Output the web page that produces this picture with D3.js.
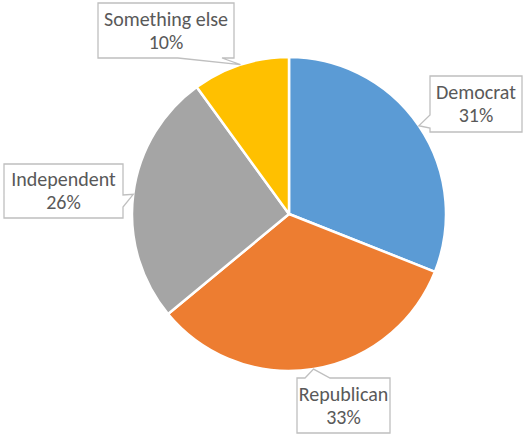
<!DOCTYPE html>
<html>
<head>
<meta charset="utf-8">
<script src="https://cdn.jsdelivr.net/npm/d3@7"></script>
<style>
  html, body { margin: 0; padding: 0; background: #ffffff; }
  svg { display: block; }
  .lbl { font-family: Calibri, Carlito, Lato, "Liberation Sans", sans-serif; font-size: 20px; fill: #595959; }
</style>
</head>
<body>
<div id="chart"></div>
<script>
// Party identification shares
const categories = ["Democrat", "Republican", "Independent", "Something else"];
const values = [31, 33, 26, 10];
const colors = ["#5B9BD5", "#ED7D31", "#A5A5A5", "#FFC000"];

// Callout boxes: rectangle, the side the pointer leaves from, and where its base sits on that side
const callouts = [
  { x: 430, y: 76,  w: 92,  h: 56, side: "left",   b0: 39, b1: 52 },
  { x: 297, y: 378, w: 93,  h: 55, side: "top",    b0: 8,  b1: 33 },
  { x: 4,   y: 164, w: 119, h: 54, side: "right",  b0: 31, b1: 43 },
  { x: 98,  y: 3,   w: 136, h: 55, side: "bottom", b0: 80, b1: 124 }
];

const W = 524, H = 435;
const cx = 289, cy = 214, R = 157;

const svg = d3.select("#chart").append("svg")
  .attr("width", W).attr("height", H);

const pie = d3.pie().sort(null).value(d => d.value);
const arcs = pie(categories.map((c, i) => ({ name: c, value: values[i], color: colors[i] })));
const arc = d3.arc().innerRadius(0).outerRadius(R);

const g = svg.append("g").attr("transform", `translate(${cx},${cy})`);
g.selectAll("path.slice").data(arcs).enter().append("path")
  .attr("class", "slice")
  .attr("d", arc)
  .attr("fill", d => d.data.color)
  .attr("stroke", "#ffffff")
  .attr("stroke-width", 2.5)
  .attr("stroke-linejoin", "round");

// Callout shape: rectangle with a wedge reaching toward the slice
function calloutPath(c, tip) {
  const x0 = c.x, y0 = c.y, x1 = c.x + c.w, y1 = c.y + c.h;
  const p = [];
  p.push([x0, y0]);
  if (c.side === "top") { p.push([x0 + c.b0, y0], tip, [x0 + c.b1, y0]); }
  p.push([x1, y0]);
  if (c.side === "right") { p.push([x1, y0 + c.b0], tip, [x1, y0 + c.b1]); }
  p.push([x1, y1]);
  if (c.side === "bottom") { p.push([x0 + c.b1, y1], tip, [x0 + c.b0, y1]); }
  p.push([x0, y1]);
  if (c.side === "left") { p.push([x0, y0 + c.b1], tip, [x0, y0 + c.b0]); }
  return "M" + p.map(q => q.join(",")).join("L") + "Z";
}

const labels = svg.append("g");
arcs.forEach((a, i) => {
  const c = callouts[i];
  const mid = (a.startAngle + a.endAngle) / 2;
  const tip = [cx + R * Math.sin(mid), cy - R * Math.cos(mid)];
  labels.append("path")
    .attr("d", calloutPath(c, tip))
    .attr("fill", "#ffffff")
    .attr("stroke", "#BFBFBF")
    .attr("stroke-width", 1.3);
  const mx = c.x + c.w / 2, my = c.y + c.h / 2;
  const pct = Math.round(a.value / d3.sum(values) * 100) + "%";
  labels.append("text").attr("class", "lbl")
    .attr("x", mx).attr("y", my - 5)
    .attr("text-anchor", "middle")
    .text(a.data.name);
  labels.append("text").attr("class", "lbl")
    .attr("x", mx).attr("y", my + 18)
    .attr("text-anchor", "middle")
    .text(pct);
});
</script>
</body>
</html>
